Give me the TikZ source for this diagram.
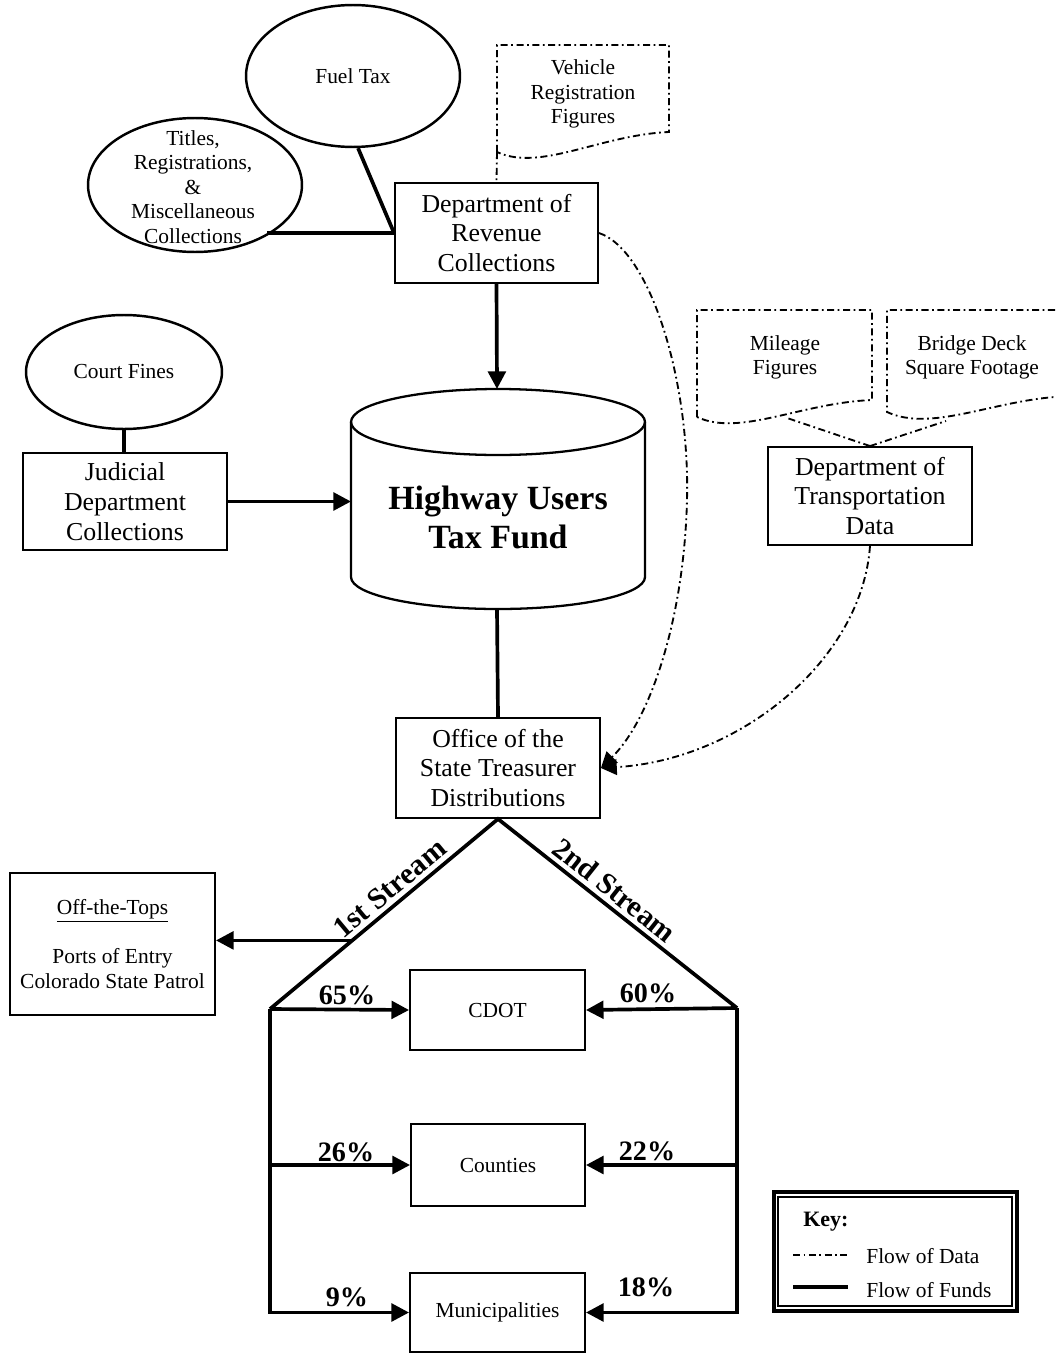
\documentclass[tikz,border=0pt]{standalone}
\usepackage{fontspec}
\setmainfont{Liberation Serif}
\usetikzlibrary{arrows.meta,shapes.geometric,calc}
\begin{document}
\begin{tikzpicture}[x=0.02cm,y=-0.02cm,
  box/.style={draw, line width=1.1pt, rectangle, inner sep=0pt, align=center},
  med/.style={font=\fontsize{14.7}{17}\selectfont},
  sm/.style={font=\fontsize{12.2}{13.9}\selectfont},
  ell/.style={draw, ellipse, line width=1.4pt, inner sep=0pt},
  txt/.style={align=center, inner sep=0pt},
  fundline/.style={line width=2.1pt},
  dataline/.style={line width=1.05pt, dash pattern=on 4pt off 2pt on 1pt off 2pt},
  tip/.style={-{Triangle[length=10pt,width=10pt]}},
  dtip/.style={-{Triangle[length=9pt,width=9pt]}},
  pct/.style={font=\bfseries\fontsize{16}{18}\selectfont, inner sep=0pt},
  stream/.style={font=\bfseries\fontsize{17}{20}\selectfont, inner sep=1pt},
]
\useasboundingbox (0,0) rectangle (1055,1355);

% ---------- top sources ----------
\node[ell, minimum width=4.28cm, minimum height=2.84cm] (fuel) at (353,76) {};
\node[txt, sm] (fueltxt) at (fuel) {Fuel Tax};
\node[ell, minimum width=4.28cm, minimum height=2.68cm] (titles) at (195,185) {};
\node[txt, sm] (titlestxt) at (193,187) {Titles,\\Registrations,\\\&\\Miscellaneous\\Collections};

% vehicle registration document
\draw[dataline] (497,152) -- (497,45) -- (669,45) -- (669,132)
  .. controls (600,135) and (540,172) .. (497,152);
\node[txt, sm] (veh) at (583,94) {Vehicle\\Registration\\Figures};
\coordinate (vehbl) at (497,152);

% department of revenue
\node[box, med, minimum width=4.06cm, minimum height=2.0cm] (dor) at (496.5,233) {Department of\\Revenue\\Collections};

\draw[fundline] (fuel.-86) -- (dor.west);
\draw[fundline] (dor.west) -- (dor.west -| titles.-35);
\draw[dataline] (vehbl) -- (dor.north);

% ---------- court fines / judicial ----------
\node[ell, minimum width=3.92cm, minimum height=2.28cm] (court) at (124,372) {};
\node[txt, sm] (courttxt) at (court) {Court Fines};
\node[box, med, minimum width=4.08cm, minimum height=1.94cm] (jud) at (125,501.5) {Judicial\\Department\\Collections};
\draw[fundline] (court.south) -- (court.south |- jud.north);

% ---------- cylinder ----------
\draw[line width=1.3pt] (498,422) ellipse [x radius=2.94cm, y radius=0.66cm];
\draw[line width=1.3pt] (351,422) -- (351,577)
  .. controls (351,594.7) and (416.9,609) .. (498,609)
  .. controls (579.1,609) and (645,594.7) .. (645,577) -- (645,422);
\node[txt, font=\bfseries\fontsize{19.3}{22}\selectfont] (fund) at (498,517.5) {Highway Users\\Tax Fund};
\coordinate (fundtop) at (497,389);
\coordinate (fundleft) at (351,501.5);
\coordinate (fundbot) at (497,609);

\draw[fundline, tip] (dor.south) -- (fundtop);
\draw[fundline, tip] (jud.east) -- (fundleft);

% ---------- DOT data ----------
\draw[dataline] (697,417) -- (697,310) -- (872,310) -- (872,400)
  .. controls (800,403) and (740,437) .. (697,417);
\node[txt, sm] (mil) at (785,357.5) {Mileage\\Figures};
\draw[dataline] (1055,310) -- (887,310) -- (887,412)
  .. controls (930,432) and (990,402) .. (1055,397);
\node[txt, sm] (bridge) at (972,357.5) {Bridge Deck\\Square Footage};
\coordinate (milbot) at (787,418);
\coordinate (brbot) at (946,421);

\node[box, med, minimum width=4.08cm, minimum height=1.96cm] (dot) at (870,496) {Department of\\Transportation\\Data};
\draw[dataline] (dot.north) -- (milbot);
\draw[dataline] (dot.north) -- (brbot);

% ---------- treasurer ----------
\node[box, med, minimum width=4.08cm, minimum height=2.0cm] (office) at (498,768) {Office of the\\State Treasurer\\Distributions};
\draw[fundline] (fundbot) -- (office.north);

\draw[dataline, dtip] (dor.east) .. controls (650,250) and (690,380) .. (687,500)
  .. controls (684,620) and (650,720) .. (office.east);
\draw[dataline, dtip] (dot.south) .. controls (862,660) and (740,760) .. (office.east);

% ---------- streams ----------
\coordinate (lc) at (270,1009);
\coordinate (rc) at (737,1008);
\draw[fundline] (lc) -- node[stream, sloped, above=1.5pt, pos=0.57] (s1) {1st Stream} (office.south)
  -- node[stream, sloped, above=1.5pt, pos=0.445] (s2) {2nd Stream} (rc);
\path (lc) -- (office.south) coordinate[pos=0.361] (otp);

\node[box, sm, minimum width=4.1cm, minimum height=2.84cm] (otops) at (112.5,944) {\underline{Off-the-Tops}\\[13.9pt]Ports of Entry\\Colorado State Patrol};
\draw[fundline, tip] (otp) -- (otp -| otops.east);

% ---------- recipients ----------
\node[box, sm, minimum width=3.5cm, minimum height=1.6cm] (cdot) at (497.5,1010) {CDOT};
\node[box, sm, minimum width=3.48cm, minimum height=1.64cm] (counties) at (498,1165) {Counties};
\node[box, sm, minimum width=3.5cm, minimum height=1.58cm] (munic) at (497.5,1312.5) {Municipalities};

\draw[fundline, tip] (lc) -- (cdot.west);
\draw[fundline, tip] (lc |- counties.west) -- (counties.west);
\draw[fundline, tip] (lc) -- (lc |- munic.west) -- (munic.west);
\draw[fundline, tip] (rc) -- (cdot.east);
\draw[fundline, tip] (rc |- counties.east) -- (counties.east);
\draw[fundline, tip] (rc) -- (rc |- munic.east) -- (munic.east);

\node[pct] (p65) at (347,995) {65\%};
\node[pct] (p60) at (648,993) {60\%};
\node[pct] (p26) at (346,1152) {26\%};
\node[pct] (p22) at (647,1151) {22\%};
\node[pct] (p9) at (347,1297) {9\%};
\node[pct] (p18) at (646,1287) {18\%};

% ---------- key ----------
\node[draw, line width=2.3pt, minimum width=4.86cm, minimum height=2.38cm, inner sep=0pt] (keyout) at (895.5,1251.5) {};
\node[draw, line width=0.8pt, minimum width=4.68cm, minimum height=2.18cm, inner sep=0pt] (keyin) at (895,1251.5) {};
\node[anchor=west, inner sep=0pt, font=\bfseries\fontsize{12.5}{14}\selectfont] (keyt) at (803,1222) {Key:};
\coordinate (kd1) at (793,1255);
\coordinate (kd2) at (848,1255);
\coordinate (kf1) at (793,1287);
\coordinate (kf2) at (848,1287);
\draw[dataline] (kd1) -- (kd2);
\draw[fundline] (kf1) -- (kf2);
\node[anchor=west, inner sep=0pt, sm] (kdt) at (866,1256) {Flow of Data};
\node[anchor=west, inner sep=0pt, sm] (kft) at (866,1290) {Flow of Funds};
\end{tikzpicture}
\end{document}
